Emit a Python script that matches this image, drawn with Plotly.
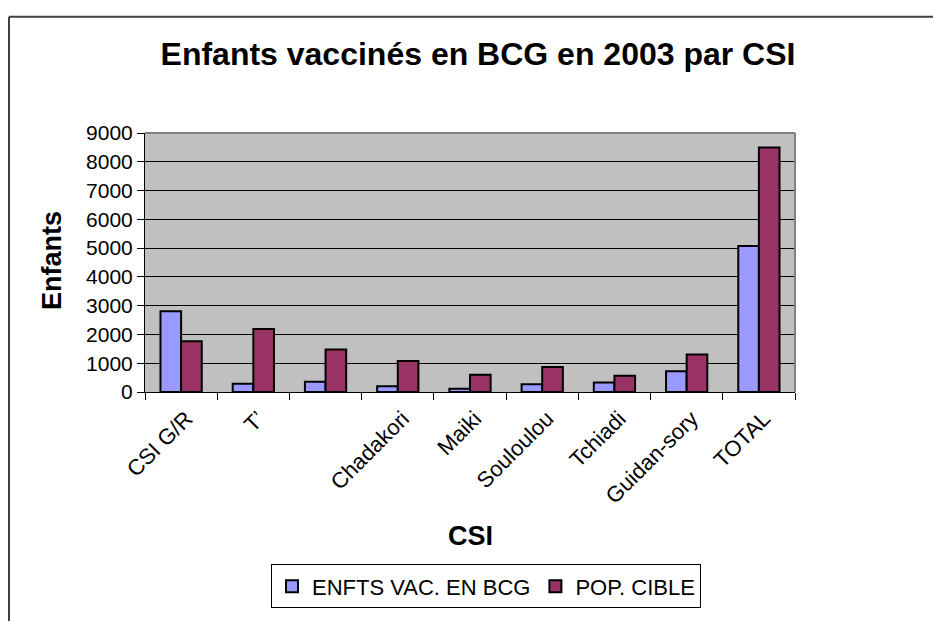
import plotly.graph_objects as go

# ---- data ----
categories = ["CSI G/R", "T’", " ", "Chadakori", "Maiki", "Souloulou", "Tchiadi", "Guidan-sory", "TOTAL"]
vaccines = [2808, 285, 353, 204, 115, 272, 326, 724, 5072]
pop_cible = [1766, 2187, 1474, 1077, 601, 870, 564, 1301, 8492]
series_names = ["ENFTS VAC. EN BCG", "POP. CIBLE"]
y_ticks = [0, 1000, 2000, 3000, 4000, 5000, 6000, 7000, 8000, 9000]

FONT = "Liberation Sans, Arial, sans-serif"
W, H = 933, 621
L, R, T, B = 145, 795, 133, 398  # plot area in pixels


def px_x(p):
    return (p - L) / (R - L)


def px_y(p):
    return (B - p) / (B - T)


fig = go.Figure()
fig.add_trace(go.Bar(x=categories, y=vaccines, name=series_names[0],
                     marker=dict(color="#9999FF", line=dict(color="black", width=2))))
fig.add_trace(go.Bar(x=categories, y=pop_cible, name=series_names[1],
                     marker=dict(color="#993366", line=dict(color="black", width=2))))

fig.update_layout(
    width=W, height=H,
    margin=dict(l=L, r=W - R, t=T, b=H - B),
    paper_bgcolor="white",
    plot_bgcolor="#C0C0C0",
    font=dict(family=FONT, color="black", size=21),
    barmode="group",
    bargap=0.4286,
    bargroupgap=0,
    showlegend=True,
    legend=dict(
        orientation="h",
        x=px_x(486), y=px_y(597), xanchor="center", yanchor="middle",
        bordercolor="black", borderwidth=1, bgcolor="white",
        font=dict(family=FONT, size=22, color="black"),
        itemwidth=30, tracegroupgap=0,
    ),
    title=dict(
        text="<b>Enfants vaccinés en BCG en 2003 par CSI</b>",
        x=478 / W, xref="container", xanchor="center",
        y=1 - 54 / H, yref="container", yanchor="middle",
        font=dict(family=FONT, size=32, color="black"),
    ),
)

fig.update_xaxes(
    type="category",
    tickson="boundaries",
    ticks="outside", ticklen=7, tickcolor="black", tickwidth=1,
    tickangle=-45,
    ticklabelshift=5, ticklabelstandoff=4,
    showline=True, linecolor="black", linewidth=1,
    showgrid=False,
    tickfont=dict(family=FONT, size=22, color="black"),
)
fig.update_yaxes(
    range=[0, 9000],
    tickvals=y_ticks,
    ticks="outside", ticklen=7, tickcolor="black", tickwidth=1,
    showline=True, linecolor="black", linewidth=1,
    showgrid=True, gridcolor="black", gridwidth=1,
    zeroline=False,
    tickfont=dict(family=FONT, size=21, color="black"),
)

annotations = [
    dict(text="<b>Enfants</b>", x=px_x(52), y=px_y(264), xref="paper", yref="paper",
         textangle=-90, showarrow=False, xanchor="center", yanchor="middle",
         font=dict(family=FONT, size=27, color="black")),
    dict(text="<b>CSI</b>", x=px_x(470), y=px_y(545), xref="paper", yref="paper",
         showarrow=False, xanchor="center", yanchor="middle",
         font=dict(family=FONT, size=27, color="black")),
]
fig.update_layout(annotations=annotations)

shapes = [
    # plot area border (top and right) in gray
    dict(type="line", xref="paper", yref="paper", x0=0, x1=1, y0=1, y1=1,
         line=dict(color="#808080", width=2), layer="above"),
    dict(type="line", xref="paper", yref="paper", x0=1, x1=1, y0=0, y1=1,
         line=dict(color="#808080", width=2), layer="above"),
    # outer chart border (left and top visible)
    dict(type="line", xref="paper", yref="paper", x0=px_x(9), x1=px_x(940), y0=px_y(14), y1=px_y(14),
         line=dict(color="#404040", width=2)),
    dict(type="line", xref="paper", yref="paper", x0=px_x(9), x1=px_x(9), y0=px_y(14), y1=px_y(640),
         line=dict(color="#404040", width=2)),
]
fig.update_layout(shapes=shapes)

fig.write_html("out.html")
